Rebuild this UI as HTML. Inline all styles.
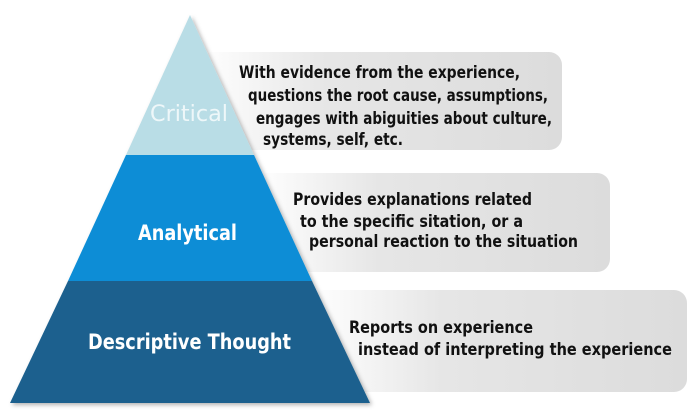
<!DOCTYPE html>
<html><head><meta charset="utf-8"><style>
html,body{margin:0;padding:0;background:#fff;}
svg{display:block;}
text{font-family:"DejaVu Sans","Liberation Sans",sans-serif;font-weight:bold;}
</style></head><body>
<svg width="700" height="416" viewBox="0 0 700 416" xmlns="http://www.w3.org/2000/svg">
<defs>
<linearGradient id="g" x1="0" y1="0" x2="1" y2="0">
<stop offset="0" stop-color="#ffffff"/><stop offset="0.35" stop-color="#e6e6e6"/><stop offset="1" stop-color="#dcdcdc"/>
</linearGradient>
<filter id="s" x="-10%" y="-10%" width="130%" height="130%"><feDropShadow dx="2" dy="2" stdDeviation="2" flood-color="#000" flood-opacity="0.3"/></filter>
</defs>
<rect x="200" y="52" width="362" height="98" rx="13" fill="url(#g)"/>
<rect x="255" y="173" width="355" height="99" rx="13" fill="url(#g)"/>
<rect x="310" y="290" width="377" height="102" rx="13" fill="url(#g)"/>
<g filter="url(#s)">
<polygon points="190,15 254,155 126,155" fill="#b9dde6"/>
<polygon points="126,155 254,155 312,281 68,281" fill="#0a8dd6"/>
<polygon points="68,281 312,281 370,403 10,403" fill="#1b618e"/>
</g>
<text x="150" y="121" font-size="22" style="font-weight:normal" fill="#eef7f9" textLength="78" lengthAdjust="spacingAndGlyphs">Critical</text>
<text x="138" y="240" font-size="21" fill="#fff" textLength="99" lengthAdjust="spacingAndGlyphs">Analytical</text>
<text x="88" y="349" font-size="21" fill="#fff" textLength="203" lengthAdjust="spacingAndGlyphs">Descriptive Thought</text>
<g font-size="16.5" fill="#111">
<text x="239" y="78" textLength="281" lengthAdjust="spacingAndGlyphs">With evidence from the experience,</text>
<text x="248" y="101" textLength="300" lengthAdjust="spacingAndGlyphs">questions the root cause, assumptions,</text>
<text x="256" y="124" textLength="296" lengthAdjust="spacingAndGlyphs">engages with abiguities about culture,</text>
<text x="263" y="145" textLength="140" lengthAdjust="spacingAndGlyphs">systems, self, etc.</text>
<text x="293" y="205" textLength="239" lengthAdjust="spacingAndGlyphs">Provides explanations related</text>
<text x="300" y="227" textLength="223" lengthAdjust="spacingAndGlyphs">to the specific sitation, or a</text>
<text x="309" y="247" textLength="269" lengthAdjust="spacingAndGlyphs">personal reaction to the situation</text>
<text x="349" y="333" textLength="184" lengthAdjust="spacingAndGlyphs">Reports on experience</text>
<text x="358" y="355" textLength="314" lengthAdjust="spacingAndGlyphs">instead of interpreting the experience</text>
</g>
</svg>
</body></html>
